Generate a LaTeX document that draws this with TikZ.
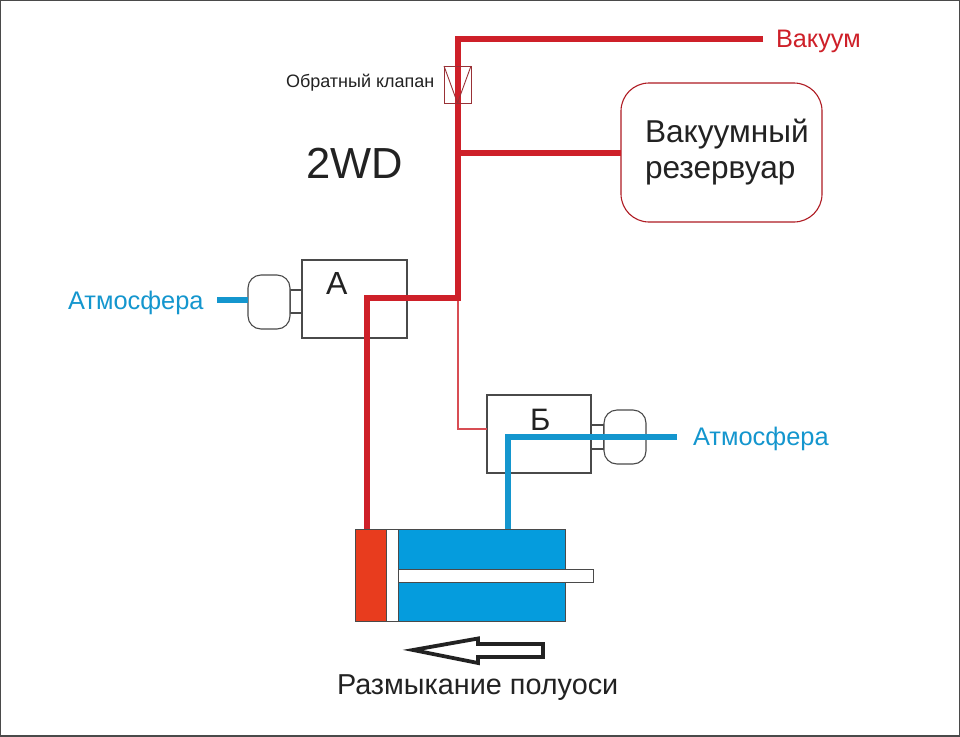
\documentclass[tikz,border=0pt]{standalone}
\usepackage{fontspec}
\setmainfont{Liberation Sans}
\definecolor{vac}{HTML}{CE2029}
\definecolor{atm}{HTML}{1496CE}
\definecolor{atmfill}{HTML}{059CDD}
\definecolor{pist}{HTML}{E83C1E}
\definecolor{boxline}{HTML}{4A4A4A}
\definecolor{ink}{HTML}{222222}
\tikzset{
  x=1pt,y=-1pt,
  unit/.style={draw=boxline,line width=1.1pt,fill=white,inner sep=0pt,outer sep=0pt},
  knob/.style={unit,rounded corners=13pt},
  vacline/.style={draw=vac,line width=6pt,line join=miter},
  atmline/.style={draw=atm,line width=5.5pt,line join=miter},
  thinred/.style={draw=vac!80!white,line width=1.1pt},
  lbl/.style={inner sep=0pt,outer sep=0pt,anchor=base west},
  cyl/.style={draw=boxline,line width=1pt},
}
\begin{document}
\begin{tikzpicture}
\useasboundingbox (0,0) rectangle (960,736);
\draw[draw=boxline,line width=1.2pt,fill=white] (0,0) rectangle (960,736);

% units
\node[unit,minimum width=105pt,minimum height=78pt,anchor=north west] (A) at (302,260) {};
\node[unit,minimum width=104pt,minimum height=78pt,anchor=north west] (B) at (487,395) {};
\node[unit,minimum width=12pt,minimum height=23pt,anchor=north west] (An) at (290,290) {};
\node[knob,minimum width=42pt,minimum height=54pt,anchor=north west] (Ak) at (248,275) {};
\node[unit,minimum width=13pt,minimum height=24pt,anchor=north west] (Bn) at (591,425) {};
\node[knob,minimum width=42pt,minimum height=54pt,anchor=north west] (Bk) at (604,410) {};
\node[draw=vac!85!black,line width=1.1pt,rounded corners=28pt,fill=white,minimum width=201pt,minimum height=139pt,anchor=north west,inner sep=0pt,outer sep=0pt] (R) at (621,83) {};

% cylinder
\fill[atmfill] (398,529) rectangle (565,621);
\fill[pist] (355,529) rectangle (386,621);
\draw[cyl] (355,529) rectangle (565,621);
\draw[cyl] (386,529) -- (386,621);
\node[cyl,fill=white,inner sep=0pt,outer sep=0pt,minimum width=12pt,minimum height=92pt,anchor=north west] (P) at (386,529) {};
\node[cyl,fill=white,inner sep=0pt,outer sep=0pt,minimum width=195pt,minimum height=13pt,anchor=north west] (Rod) at (398,569) {};

% named free ends
\coordinate (vacEnd) at (763,39);
\coordinate (vacCorner) at (458,39);
\coordinate (vacJoin) at (458,298);
\coordinate (vacIn) at (367,298);
\coordinate (vacCyl) at (367,529);
\coordinate (resJoin) at (458,153);
\coordinate (thinCorner) at (458,429);
\coordinate (atmL) at (217,300);
\coordinate (atmR) at (677,437);
\coordinate (atmIn) at (508,437);
\coordinate (atmCyl) at (508,529);

% connectors
\draw[thinred] (vacJoin) -- (thinCorner) -- (B.west |- thinCorner);
\draw[vacline] (vacEnd) -- (vacCorner) -- (vacJoin) -- (vacIn) -- (vacCyl);
\draw[vacline] (resJoin) -- (R.west |- resJoin);
\draw[atmline] (atmL) -- (Ak.west |- atmL);
\draw[atmline] (atmR) -- (atmIn) -- (atmCyl);

% check valve
\node[draw=vac!60!boxline,line width=0.9pt,minimum width=27pt,minimum height=37pt,inner sep=0pt,outer sep=0pt,anchor=north west] (V) at (444,66) {};
\draw[draw=vac!60!boxline,line width=0.9pt] (V.north west) -- (V.south) -- (V.north east);

% direction arrow
\draw[draw=ink,line width=3.8pt,line join=miter,miter limit=10] (413,650) -- (478,638.5) -- (478,644) -- (543,644) -- (543,657) -- (478,657) -- (478,663) -- cycle;

% labels
\node[lbl,text=vac,font=\fontsize{25.3}{25}\selectfont] (t1) at (776,47) {Вакуум};
\node[lbl,text=ink,font=\fontsize{18}{18}\selectfont] (t2) at (286,87) {Обратный клапан};
\node[lbl,text=ink,font=\fontsize{43.5}{44}\selectfont] (t3) at (306,178) {2WD};
\node[lbl,text=ink,font=\fontsize{31.6}{32}\selectfont] (t4) at (645,142) {Вакуумный};
\node[lbl,text=ink,font=\fontsize{31.6}{32}\selectfont] (t5) at (645,178) {резервуар};
\node[lbl,text=ink,font=\fontsize{32}{32}\selectfont] (t6) at (326,294) {А};
\node[lbl,text=ink,font=\fontsize{31}{31}\selectfont] (t7) at (530,430) {Б};
\node[lbl,text=atm,font=\fontsize{25.4}{25}\selectfont] (t8) at (68,309) {Атмосфера};
\node[lbl,text=atm,font=\fontsize{25.4}{25}\selectfont] (t9) at (693,445) {Атмосфера};
\node[lbl,text=ink,font=\fontsize{28.8}{29}\selectfont] (t10) at (337,694) {Размыкание полуоси};
\end{tikzpicture}
\end{document}
